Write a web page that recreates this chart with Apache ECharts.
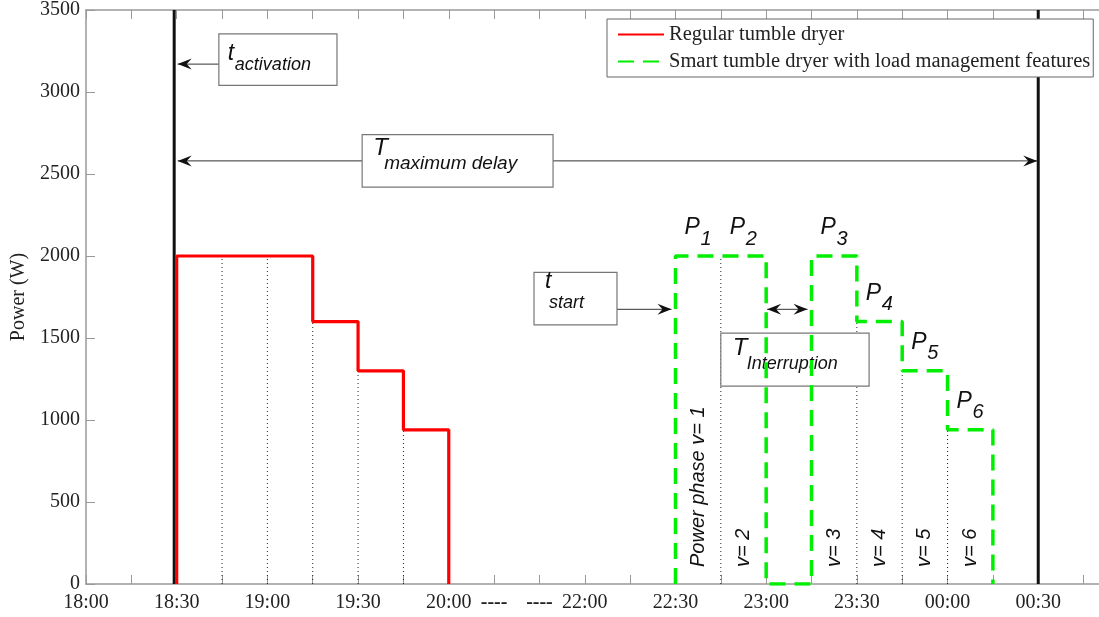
<!DOCTYPE html>
<html>
<head>
<meta charset="utf-8">
<script src="https://cdn.jsdelivr.net/npm/echarts@6/dist/echarts.min.js"></script>
<style>
html, body { margin: 0; padding: 0; background: #fff; }
#chart { width: 1099px; height: 617px; }
</style>
</head>
<body>
<div id="chart"></div>
<script>
// x axis is counted in 15 minute slots, 20:00-22:00 is squeezed into 3 slots
var tickLabels = ['18:00', '', '18:30', '', '19:00', '', '19:30', '', '20:00', '----', '----', '22:00', '',
                  '22:30', '', '23:00', '', '23:30', '', '00:00', '', '00:30'];
var phasePower = [2000, 2000, 2000, 1600, 1300, 940];
var regularStart = [2, 3, 4, 5, 6, 7];
var smartStart = [13, 14, 16, 17, 18, 19];
var phaseNames = ['Power phase v= 1', 'v= 2', 'v= 3', 'v= 4', 'v= 5', 'v= 6'];
var activationSlot = 2;
var maxDelaySlot = 21;
var seriesNames = ['Regular tumble dryer', 'Smart tumble dryer with load management features'];

var SANS = '"Liberation Sans", Arial, sans-serif';
var SERIF = '"Liberation Serif", "Times New Roman", serif';

// corner points for a step line (step: 'end')
function stepPoints(starts) {
    var pts = [[starts[0], 0]];
    for (var i = 0; i < starts.length; i++) {
        if (i > 0 && starts[i] !== starts[i - 1] + 1) pts.push([starts[i - 1] + 1, 0]);
        pts.push([starts[i], phasePower[i]]);
    }
    pts.push([starts[starts.length - 1] + 1, 0]);
    return pts;
}

// dotted separators between touching phases
function boundaries(starts) {
    var out = [];
    for (var i = 1; i < starts.length; i++) {
        if (starts[i] === starts[i - 1] + 1) out.push([starts[i], Math.min(phasePower[i - 1], phasePower[i])]);
    }
    return out;
}

// text placed by its baseline
function txt(x, base, str, size) {
    return {
        type: 'text', x: x, y: base - 0.347 * size,
        style: {
            text: str, fontSize: size, fontFamily: SANS, fontStyle: 'italic',
            fill: '#111', align: 'left', verticalAlign: 'middle'
        }
    };
}

function arrowHead(tipX, tipY, dir) {
    var L = 14, H = 5.5, N = 9;
    return {
        type: 'polygon',
        shape: { points: [[tipX, tipY], [tipX - dir * L, tipY - H], [tipX - dir * N, tipY], [tipX - dir * L, tipY + H]] },
        style: { fill: '#111' }
    };
}

function hline(x0, x1, y) {
    return { type: 'line', shape: { x1: x0, y1: y, x2: x1, y2: y }, style: { stroke: '#333', lineWidth: 1 } };
}

var notes = [
    { box: [2.93, 3355, 5.535, 3040], main: 't', mainSize: 23, sub: 'activation', mainAt: [9, 28], subAt: [16, 37], subSize: 18,
      arrows: [{ y: 3170, side: 'left', to: activationSlot, tipDx: 1 }] },
    { box: [6.09, 2740, 10.3, 2420], main: 'T', mainSize: 24, sub: 'maximum delay', mainAt: [11, 22], subAt: [22, 36], subSize: 19,
      arrows: [{ y: 2580, side: 'left', to: activationSlot, tipDx: 1 }, { y: 2580, side: 'right', to: maxDelaySlot, tipDx: -1 }] },
    { box: [9.88, 1900, 11.71, 1580], main: 't', mainSize: 23, sub: 'start', mainAt: [11, 17], subAt: [15, 37], subSize: 18,
      arrows: [{ y: 1675, side: 'right', to: smartStart[0], tipDx: -4 }] },
    { box: [14.0, 1530, 17.27, 1207], main: 'T', mainSize: 24, sub: 'Interruption', mainAt: [12, 24], subAt: [26, 37], subSize: 18,
      arrows: [] }
];
var interruptionY = 1675;

var chart = echarts.init(document.getElementById('chart'));

var axisCommon = {
    type: 'value', min: 0, max: 22.34, interval: 1,
    axisLine: { show: true, lineStyle: { color: '#999', width: 1.5 } },
    axisTick: { show: true, inside: true, length: 9, lineStyle: { color: '#999' } },
    splitLine: { show: false }
};

var option = {
    animation: false,
    backgroundColor: '#fff',
    grid: { left: 86, right: 0, top: 10, bottom: 33, containLabel: false, outerBoundsMode: 'none' },
    legend: {
        data: seriesNames, orient: 'vertical', left: 607, top: 19,
        padding: [5, 3, 5, 10], itemGap: 6, itemWidth: 46, itemHeight: 14,
        borderColor: '#666', borderWidth: 1, backgroundColor: '#fff',
        itemStyle: { opacity: 0 },
        textStyle: { fontFamily: SERIF, fontSize: 20.5, color: '#222' }
    },
    xAxis: [
        Object.assign({}, axisCommon, {
            position: 'bottom',
            axisLabel: {
                margin: 9, fontFamily: SERIF, fontSize: 20, color: '#222', showMaxLabel: false,
                formatter: function(v) {
                    if (Math.abs(v - Math.round(v)) > 1e-6) return '';
                    var s = tickLabels[Math.round(v)] || '';
                    return s === '----' ? '{b|----}' : s;
                },
                rich: { b: { fontFamily: SERIF, fontSize: 20, fontWeight: 'bold', color: '#222' } }
            }
        }),
        Object.assign({}, axisCommon, { position: 'top', axisLabel: { show: false } })
    ],
    yAxis: {
        type: 'value', min: 0, max: 3500, interval: 500,
        name: 'Power (W)', nameLocation: 'middle', nameGap: 48,
        nameTextStyle: { fontFamily: SERIF, fontSize: 20, color: '#222' },
        axisLine: { show: true, lineStyle: { color: '#999', width: 1.5 } },
        axisTick: { show: true, inside: true, length: 9, lineStyle: { color: '#999' } },
        axisLabel: {
            margin: 6, fontFamily: SERIF, fontSize: 20, color: '#222',
            formatter: function(v) { return String(v); }
        },
        splitLine: { show: false }
    },
    series: [
        {
            // dotted phase separators
            type: 'custom', silent: true,
            data: boundaries(regularStart).concat(boundaries(smartStart)),
            renderItem: function(params, api) {
                var a = api.coord([api.value(0), 0]);
                var b = api.coord([api.value(0), api.value(1)]);
                return {
                    type: 'line', shape: { x1: a[0], y1: a[1], x2: b[0], y2: b[1] },
                    style: { stroke: '#222', lineWidth: 1, lineDash: [1, 3] }
                };
            }
        },
        {
            // activation / end of maximum delay
            type: 'custom', silent: true,
            data: [[activationSlot, -2.5], [maxDelaySlot, 0]],
            renderItem: function(params, api) {
                var a = api.coord([api.value(0), 0]);
                var b = api.coord([api.value(0), 3500]);
                var x = a[0] + api.value(1);
                return {
                    type: 'line', shape: { x1: x, y1: a[1], x2: x, y2: b[1] },
                    style: { stroke: '#111', lineWidth: 3 }
                };
            }
        },
        {
            name: seriesNames[0], type: 'line', step: 'end', symbol: 'none',
            data: stepPoints(regularStart),
            lineStyle: { color: '#ff0000', width: 3.2 },
            itemStyle: { color: '#ff0000' }
        },
        {
            name: seriesNames[1], type: 'line', step: 'end', symbol: 'none',
            data: stepPoints(smartStart),
            lineStyle: { color: '#00ee00', width: 3.5, type: [16, 9] },
            itemStyle: { color: '#00ee00' }
        },
        {
            // P labels at each smart phase
            type: 'custom', silent: true,
            data: smartStart.map(function(s, i) { return [s, phasePower[i]]; }),
            renderItem: function(params, api) {
                var p = api.coord([api.value(0), api.value(1)]);
                return {
                    type: 'group', children: [
                        txt(p[0] + 9, p[1] - 20, 'P', 23),
                        txt(p[0] + 25, p[1] - 10, String(params.dataIndex + 1), 20)
                    ]
                };
            }
        },
        {
            // rotated phase names
            type: 'custom', silent: true,
            data: smartStart.map(function(s) { return [s + 0.5, 0]; }),
            renderItem: function(params, api) {
                var p = api.coord([api.value(0), api.value(1)]);
                return {
                    type: 'text', x: p[0], y: p[1] - 17, rotation: Math.PI / 2,
                    style: {
                        text: phaseNames[params.dataIndex], fontSize: 20, fontFamily: SANS, fontStyle: 'italic',
                        fill: '#111', align: 'left', verticalAlign: 'middle'
                    }
                };
            }
        },
        {
            // boxes and arrows
            type: 'custom', silent: true,
            data: notes.map(function(n) { return [n.box[0], n.box[1]]; }),
            renderItem: function(params, api) {
                var n = notes[params.dataIndex];
                var tl = api.coord([n.box[0], n.box[1]]);
                var br = api.coord([n.box[2], n.box[3]]);
                var kids = [];
                n.arrows.forEach(function(a) {
                    var y = api.coord([0, a.y])[1];
                    var tip = api.coord([a.to, a.y])[0] + a.tipDx;
                    if (a.side === 'left') {
                        kids.push(hline(tl[0], tip, y), arrowHead(tip, y, -1));
                    } else {
                        kids.push(hline(br[0], tip, y), arrowHead(tip, y, 1));
                    }
                });
                kids.push({
                    type: 'rect',
                    shape: { x: tl[0], y: tl[1], width: br[0] - tl[0], height: br[1] - tl[1] },
                    style: { fill: '#fff', stroke: '#777', lineWidth: 1.2 }
                });
                kids.push(txt(tl[0] + n.mainAt[0], tl[1] + n.mainAt[1], n.main, n.mainSize));
                kids.push(txt(tl[0] + n.subAt[0], tl[1] + n.subAt[1], n.sub, n.subSize));
                if (n.sub === 'Interruption') {
                    var y = api.coord([0, interruptionY])[1];
                    var x0 = api.coord([smartStart[1] + 1, 0])[0] + 1;
                    var x1 = api.coord([smartStart[2], 0])[0] - 4;
                    kids.push(hline(x0, x1, y), arrowHead(x0, y, -1), arrowHead(x1, y, 1));
                }
                return { type: 'group', children: kids };
            }
        }
    ]
};

chart.setOption(option);
</script>
</body>
</html>
